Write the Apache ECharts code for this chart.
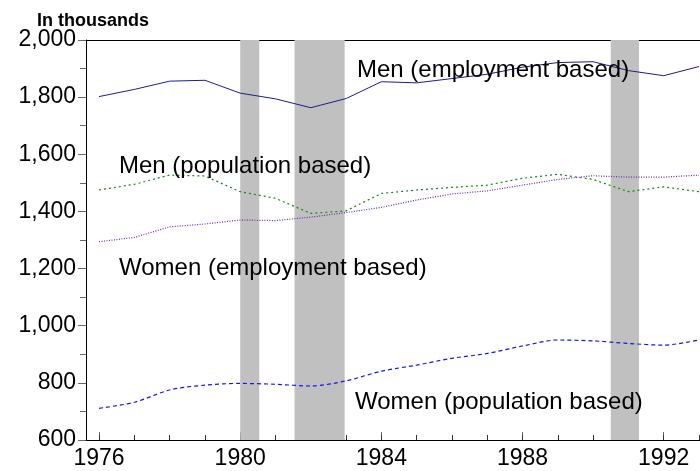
<!DOCTYPE html>
<html lang="en">
<head>
    <meta charset="UTF-8">
    <title>Employment</title>
    <script src="https://cdn.jsdelivr.net/npm/echarts@6/dist/echarts.min.js"></script>
    <style>html,body{margin:0;padding:0;background:#fff;}</style>
</head>
<body>
<div id="main" style="width: 700px;height:471px;"></div>
<script>
    var years = [1976, 1977, 1978, 1979, 1980, 1981, 1982, 1983, 1984, 1985, 1986, 1987, 1988, 1989, 1990, 1991, 1992, 1993];
    var menEmp = [1802, 1827, 1856, 1859, 1814, 1794, 1763, 1795, 1854, 1850, 1865, 1880, 1905, 1921, 1924, 1893, 1875, 1907];
    var menPop = [1475, 1495, 1527, 1524, 1469, 1446, 1393, 1402, 1463, 1475, 1484, 1492, 1516, 1530, 1512, 1469, 1486, 1469];
    var womenEmp = [1294, 1309, 1346, 1356, 1370, 1368, 1380, 1396, 1414, 1440, 1461, 1472, 1492, 1512, 1525, 1520, 1520, 1527];
    var womenPop = [711, 732, 775, 792, 798, 795, 789, 807, 841, 862, 886, 903, 929, 950, 947, 938, 932, 950];
    var recessions = [[1980.0, 1980.54], [1981.54, 1982.96], [1990.5, 1991.3]];
    var majorYears = [1976, 1980, 1984, 1988, 1992];
    var fontFam = '"Liberation Sans", Arial, sans-serif';

    function pairs(vals) {
        return years.map(function (y, i) { return [y, vals[i]]; });
    }

    var xMin = 1975.63, xMax = 1993.03;

    var myChart = echarts.init(document.getElementById('main'));
    var option = {
        animation: false,
        grid: {left: 86, top: 40, right: 0, bottom: 31},
        xAxis: [
            {
                type: 'value', min: xMin, max: xMax, position: 'bottom',
                axisLine: {lineStyle: {color: '#000', width: 1}},
                axisTick: {inside: true, length: 8, customValues: majorYears, lineStyle: {color: '#666'}},
                axisLabel: {customValues: majorYears, color: '#000', fontSize: 23, fontFamily: fontFam, margin: 7,
                    formatter: function (v) { return String(v); }},
                splitLine: {show: false}
            },
            {
                type: 'value', min: xMin, max: xMax, position: 'bottom',
                axisLine: {show: false},
                axisTick: {inside: true, length: 5, customValues: years, lineStyle: {color: '#333'}},
                axisLabel: {show: false},
                splitLine: {show: false}
            },
            {
                type: 'value', min: xMin, max: xMax, position: 'top',
                axisLine: {lineStyle: {color: '#000', width: 1}},
                axisTick: {show: false},
                axisLabel: {show: false},
                splitLine: {show: false}
            }
        ],
        yAxis: {
            type: 'value', min: 600, max: 2000, interval: 200,
            axisLine: {show: true, lineStyle: {color: '#000', width: 1}},
            axisTick: {show: true, length: 8, lineStyle: {color: '#666'}},
            minorTick: {show: true, splitNumber: 2, length: 6, lineStyle: {color: '#666'}},
            axisLabel: {color: '#000', fontSize: 23, fontFamily: fontFam, margin: 10,
                formatter: function (v) { return v.toLocaleString('en-US'); }},
            splitLine: {show: false}
        },
        series: [
            {
                type: 'line', data: [], z: 1,
                markArea: {
                    silent: true,
                    itemStyle: {color: '#c0c0c0', opacity: 1},
                    data: recessions.map(function (r) { return [{xAxis: r[0]}, {xAxis: r[1]}]; })
                }
            },
            {
                name: 'Men (employment based)', type: 'line', data: pairs(menEmp), symbol: 'none', z: 3,
                lineStyle: {color: '#1c1c8c', width: 1}
            },
            {
                name: 'Men (population based)', type: 'line', data: pairs(menPop), symbol: 'none', z: 3,
                lineStyle: {color: '#118811', width: 1.2, type: [2, 3]}
            },
            {
                name: 'Women (employment based)', type: 'line', data: pairs(womenEmp), symbol: 'none', z: 3,
                lineStyle: {color: '#6a2aaa', width: 1.2, type: [1, 1.5]}
            },
            {
                name: 'Women (population based)', type: 'line', data: pairs(womenPop), symbol: 'none', z: 3,
                smooth: 0.3,
                lineStyle: {color: '#1515ee', width: 1.2, type: [4, 3]}
            }
        ],
        graphic: [
            {type: 'text', left: 37, top: 12, z: 10,
                style: {text: 'In thousands', font: 'bold 18px ' + fontFam, fill: '#000'}},
            {type: 'text', left: 357, top: 58, z: 10,
                style: {text: 'Men (employment based)', font: '24px ' + fontFam, fill: '#000'}},
            {type: 'text', left: 119, top: 154, z: 10,
                style: {text: 'Men (population based)', font: '24px ' + fontFam, fill: '#000'}},
            {type: 'text', left: 119, top: 256, z: 10,
                style: {text: 'Women (employment based)', font: '24px ' + fontFam, fill: '#000'}},
            {type: 'text', left: 355, top: 390, z: 10,
                style: {text: 'Women (population based)', font: '24px ' + fontFam, fill: '#000'}}
        ]
    };
    myChart.setOption(option);
</script>
</body>
</html>
